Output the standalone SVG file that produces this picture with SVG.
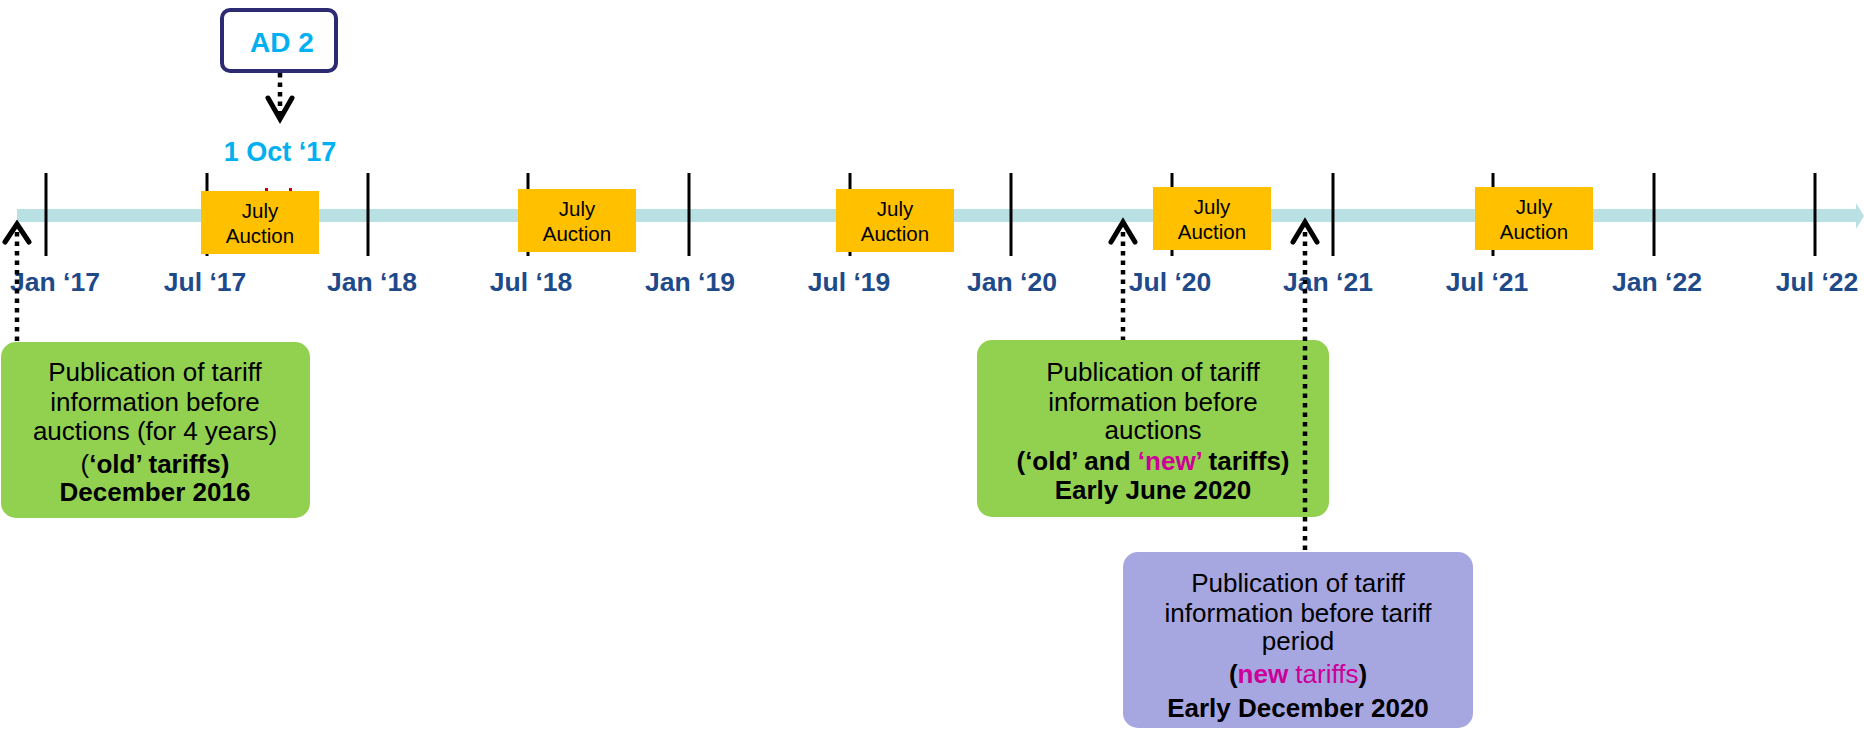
<svg xmlns="http://www.w3.org/2000/svg" width="1864" height="731" viewBox="0 0 1864 731">
<style>
.tick{stroke:#000;stroke-width:3}
.lbl{font-family:"Liberation Sans",Arial,sans-serif;font-weight:bold;font-size:26.5px;fill:#1F4A8A;text-anchor:middle}
.auc{fill:#FFC000}
.auct{font-family:"Liberation Sans",Arial,sans-serif;font-size:20.5px;fill:#000;text-anchor:middle}
.bt{font-family:"Liberation Sans",Arial,sans-serif;font-size:26px;fill:#000;text-anchor:middle}
.b{font-weight:bold}
.mg{fill:#CC0099}
.dot{stroke:#000;stroke-width:4.5;stroke-dasharray:4.5 5;fill:none}
.chev{stroke:#000;stroke-width:5;fill:none;stroke-linecap:round;stroke-linejoin:miter}
.blue{font-family:"Liberation Sans",Arial,sans-serif;font-weight:bold;fill:#00B0F0;text-anchor:middle}
</style>
<rect width="1864" height="731" fill="#fff"/>
<g id="timeline">
<rect x="17" y="209" width="1840" height="13" fill="#B9E0E3"/>
<polygon points="1856,203 1864,216 1856,229" fill="#B9E0E3"/>
<line class="tick" x1="46" y1="173" x2="46" y2="256"/>
<line class="tick" x1="207" y1="173" x2="207" y2="256"/>
<line class="tick" x1="368" y1="173" x2="368" y2="256"/>
<line class="tick" x1="528" y1="173" x2="528" y2="256"/>
<line class="tick" x1="689" y1="173" x2="689" y2="256"/>
<line class="tick" x1="850" y1="173" x2="850" y2="256"/>
<line class="tick" x1="1011" y1="173" x2="1011" y2="256"/>
<line class="tick" x1="1172" y1="173" x2="1172" y2="256"/>
<line class="tick" x1="1333" y1="173" x2="1333" y2="256"/>
<line class="tick" x1="1493" y1="173" x2="1493" y2="256"/>
<line class="tick" x1="1654" y1="173" x2="1654" y2="256"/>
<line class="tick" x1="1815" y1="173" x2="1815" y2="256"/>
<text class="lbl" x="55" y="291">Jan ‘17</text>
<text class="lbl" x="205" y="291">Jul ‘17</text>
<text class="lbl" x="372" y="291">Jan ‘18</text>
<text class="lbl" x="531" y="291">Jul ‘18</text>
<text class="lbl" x="690" y="291">Jan ‘19</text>
<text class="lbl" x="849" y="291">Jul ‘19</text>
<text class="lbl" x="1012" y="291">Jan ‘20</text>
<text class="lbl" x="1170" y="291">Jul ‘20</text>
<text class="lbl" x="1328" y="291">Jan ‘21</text>
<text class="lbl" x="1487" y="291">Jul ‘21</text>
<text class="lbl" x="1657" y="291">Jan ‘22</text>
<text class="lbl" x="1817" y="291">Jul ‘22</text>
</g>
<g id="auction1">
<rect class="auc" x="201" y="191" width="118" height="63"/>
<rect x="265" y="188" width="3" height="3" fill="#D00000"/>
<rect x="289" y="188" width="3" height="3" fill="#D00000"/>
<text class="auct" x="260" y="218">July</text>
<text class="auct" x="260" y="243">Auction</text>
</g>
<g id="auction2">
<rect class="auc" x="518" y="189" width="118" height="63"/>
<text class="auct" x="577" y="216">July</text>
<text class="auct" x="577" y="241">Auction</text>
</g>
<g id="auction3">
<rect class="auc" x="836" y="189" width="118" height="63"/>
<text class="auct" x="895" y="216">July</text>
<text class="auct" x="895" y="241">Auction</text>
</g>
<g id="auction4">
<rect class="auc" x="1153" y="187" width="118" height="63"/>
<text class="auct" x="1212" y="214">July</text>
<text class="auct" x="1212" y="239">Auction</text>
</g>
<g id="auction5">
<rect class="auc" x="1475" y="187" width="118" height="63"/>
<text class="auct" x="1534" y="214">July</text>
<text class="auct" x="1534" y="239">Auction</text>
</g>
<g id="ad2">
<rect x="222" y="10" width="114" height="61" rx="8" fill="#fff" stroke="#2B2A72" stroke-width="4"/>
<text class="blue" x="282" y="52" font-size="28">AD 2</text>
</g>
<g id="date-oct17">
<text class="blue" x="280" y="161" font-size="27">1 Oct ‘17</text>
</g>
<g id="pub-dec2016">
<rect x="1" y="342" width="309" height="176" rx="15" fill="#92D050"/>
<text class="bt" x="155" y="381">Publication of tariff</text>
<text class="bt" x="155" y="411">information before</text>
<text class="bt" x="155" y="440">auctions (for 4 years)</text>
<text class="bt" x="155" y="473">(<tspan class="b">‘old’ tariffs)</tspan></text>
<text class="bt b" x="155" y="501">December 2016</text>
</g>
<g id="pub-jun2020">
<rect x="977" y="340" width="352" height="177" rx="15" fill="#92D050"/>
<text class="bt" x="1153" y="381">Publication of tariff</text>
<text class="bt" x="1153" y="411">information before</text>
<text class="bt" x="1153" y="439">auctions</text>
<text class="bt b" x="1153" y="470">(‘old’ and <tspan class="mg">‘new’</tspan> tariffs)</text>
<text class="bt b" x="1153" y="499">Early June 2020</text>
</g>
<g id="pub-dec2020">
<rect x="1123" y="552" width="350" height="176" rx="15" fill="#A6A6E0"/>
<text class="bt" x="1298" y="592">Publication of tariff</text>
<text class="bt" x="1298" y="622">information before tariff</text>
<text class="bt" x="1298" y="650">period</text>
<text class="bt" x="1298" y="683"><tspan class="b">(</tspan><tspan class="b mg">new</tspan><tspan class="mg"> tariffs</tspan><tspan class="b">)</tspan></text>
<text class="bt b" x="1298" y="717">Early December 2020</text>
</g>
<g id="connectors">
<line class="dot" x1="280" y1="73" x2="280" y2="114"/>
<polyline class="chev" points="268,98 280,119 292,98"/>
<line class="dot" x1="17" y1="232" x2="17" y2="342"/>
<polyline class="chev" points="5,242 17,224 29,242"/>
<line class="dot" x1="1123" y1="232" x2="1123" y2="340"/>
<polyline class="chev" points="1111,242 1123,222 1135,242"/>
<line class="dot" x1="1305" y1="232" x2="1305" y2="552"/>
<polyline class="chev" points="1293,242 1305,222 1317,242"/>
</g>
</svg>
